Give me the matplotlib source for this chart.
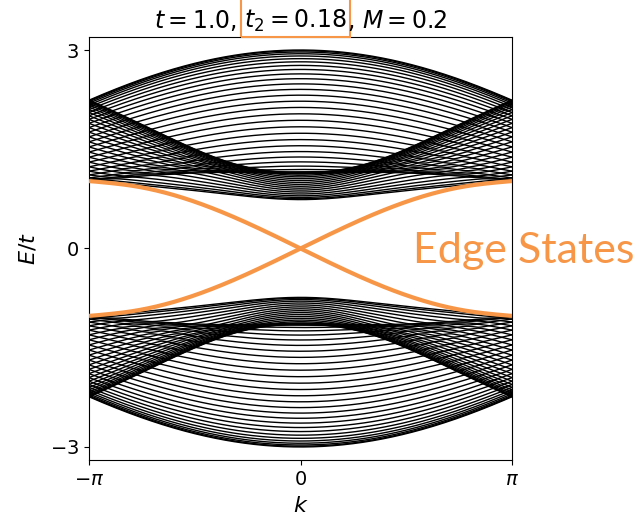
import numpy as np
import matplotlib
matplotlib.use("Agg")
import matplotlib.pyplot as plt
from matplotlib.patches import Rectangle

# Haldane model parameters (shown in the title)
t = 1.0
t2 = 0.18
M = 0.2
phi = np.pi / 2
n_rows = 50          # ribbon width in atomic rows (armchair edges)
n_k = 301

orange = "#F79646"

# sites of one ribbon cell; period along x is 3 (bond length 1)
period = 3.0
pos = []
sub = []
for j in range(n_rows):
    xa = 1.5 * (j % 2)
    y = j * np.sqrt(3) / 2
    pos.append((xa, y))
    sub.append(1)
    pos.append(((xa + 1.0) % period, y))
    sub.append(-1)
pos = np.array(pos)
sub = np.array(sub)
nsite = len(pos)

nn_A = np.array([[1.0, 0.0], [-0.5, np.sqrt(3) / 2], [-0.5, -np.sqrt(3) / 2]])

# list of hoppings: (i, l, shift, amplitude)
hops = []
for i in range(nsite):
    nn = nn_A * sub[i]
    for l in range(nsite):
        if abs(pos[l, 1] - pos[i, 1]) > 2.0:
            continue
        for s in (-1, 0, 1):
            d = pos[l] + np.array([period * s, 0.0]) - pos[i]
            r = np.hypot(*d)
            if abs(r - 1.0) < 1e-6:
                hops.append((i, l, s, -t))
            elif abs(r - np.sqrt(3)) < 1e-6:
                for dl in nn:
                    rest = d - dl
                    if abs(np.hypot(*rest) - 1.0) < 1e-6:
                        nu = np.sign(dl[0] * rest[1] - dl[1] * rest[0])
                        hops.append((i, l, s, t2 * np.exp(1j * nu * phi)))
                        break

k = np.linspace(-np.pi, np.pi, n_k)
bands = np.zeros((n_k, nsite))
for a, kk in enumerate(k):
    H = np.diag(M * sub).astype(complex)
    for i, l, s, amp in hops:
        H[i, l] += amp * np.exp(1j * kk * s)
    bands[a] = np.linalg.eigvalsh(H)

mid = nsite // 2

fig = plt.figure(figsize=(6.39, 5.15), dpi=100)
ax = fig.add_axes([0.1393, 0.1068, 0.662, 0.8214])

for b in range(nsite):
    if b in (mid - 1, mid):
        continue
    ax.plot(k, bands[:, b], color="black", lw=1.0)
for b in (mid - 1, mid):
    ax.plot(k, bands[:, b], color=orange, lw=3.0, solid_capstyle="butt", zorder=3)

ax.set_xlim(-np.pi, np.pi)
ax.set_ylim(-3.2, 3.2)
ax.set_xticks([-np.pi, 0, np.pi])
ax.set_xticklabels([r"$-\pi$", "$0$", r"$\pi$"])
ax.set_yticks([-3, 0, 3])
ax.set_yticklabels([r"$-3$", "$0$", "$3$"])
ax.tick_params(labelsize=14)
ax.set_xlabel("$k$", fontsize=16, labelpad=5)
ax.set_ylabel("$E/t$", fontsize=16, labelpad=8)

ax.text(0.766, 0.4657, "Edge States", transform=ax.transAxes, color=orange,
        fontsize=31, family="Lato", va="baseline", ha="left", clip_on=False)

# title built from pieces so the t2 part can be framed
pieces = [r"$t = 1.0$,", r"$t_2 = 0.18$", r",", r"$M = 0.2$"]
gaps = [1, 0, 1, 0]
fs = 17
space = 0.318 * fs * 100 / 72
fig.canvas.draw()
renderer = fig.canvas.get_renderer()
texts = [fig.text(0, 0, p, fontsize=fs, va="baseline") for p in pieces]
widths = [tx.get_window_extent(renderer).width for tx in texts]
W, Hfig = fig.bbox.width, fig.bbox.height
axbb = ax.get_window_extent(renderer)
cx = (axbb.x0 + axbb.x1) / 2
total = sum(widths) + space * sum(gaps)
x = cx - total / 2
base = Hfig - 28
for tx, w, g in zip(texts, widths, gaps):
    tx.set_position((x / W, base / Hfig))
    x += w + g * space

fig.canvas.draw()
bb = texts[1].get_window_extent(renderer)
fig.patches.append(Rectangle((bb.x0 - 3, bb.y0 - 3), bb.width + 6, Hfig - bb.y0 + 5,
                             transform=None, fill=False, ec=orange, lw=1.5))

fig.savefig("out.png", dpi=100)
